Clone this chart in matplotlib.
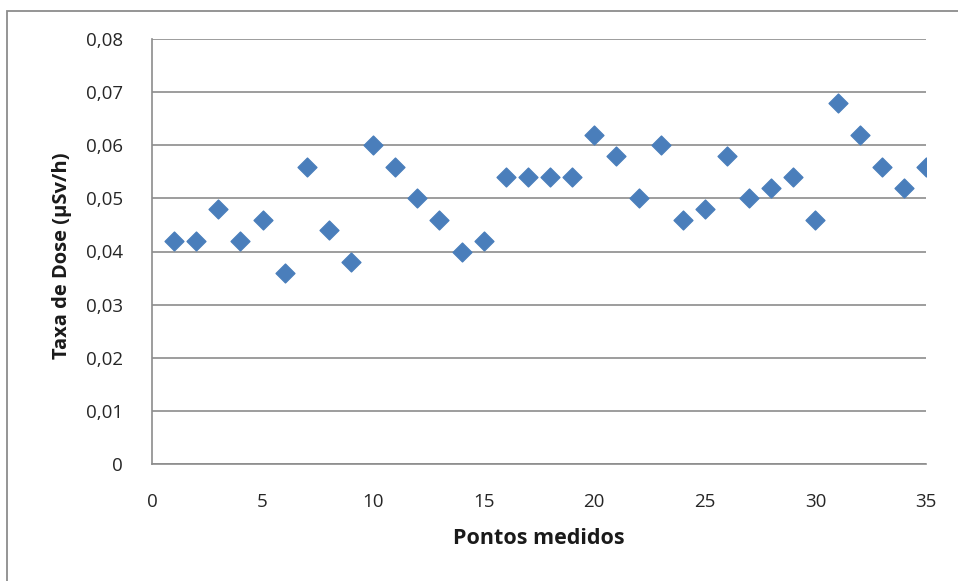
import matplotlib
matplotlib.use("Agg")
import matplotlib.pyplot as plt
from matplotlib.ticker import FuncFormatter

pontos = list(range(1, 36))
taxa = [0.042, 0.042, 0.048, 0.042, 0.046, 0.036, 0.056, 0.044, 0.038, 0.060,
        0.056, 0.050, 0.046, 0.040, 0.042, 0.054, 0.054, 0.054, 0.054, 0.062,
        0.058, 0.050, 0.060, 0.046, 0.048, 0.058, 0.050, 0.052, 0.054, 0.046,
        0.068, 0.062, 0.056, 0.052, 0.056]
x_ticks = [0, 5, 10, 15, 20, 25, 30, 35]
y_ticks = [0, 0.01, 0.02, 0.03, 0.04, 0.05, 0.06, 0.07, 0.08]
x_label = "Pontos medidos"
y_label = "Taxa de Dose (µSv/h)"

plt.rcParams['font.family'] = ['Open Sans', 'DejaVu Sans']

fig = plt.figure(figsize=(9.58, 5.81), dpi=100)
# outer chart frame
frame = plt.Rectangle((7/958, -0.1), 1.2, (581-11)/581 + 0.1, transform=fig.transFigure,
                      fill=False, edgecolor='#8c8c8c', linewidth=1.3)
fig.patches.append(frame)

ax = fig.add_axes([152/958, (581-464)/581, (926-152)/958, (464-39)/581])
ax.scatter(pontos, taxa, marker='D', s=92, color='#4a7ebb', edgecolors='#4a7ebb', zorder=3)

ax.set_xlim(0, 35)
ax.set_ylim(0, 0.08)
ax.set_xticks(x_ticks)
ax.set_yticks(y_ticks)
ax.yaxis.set_major_formatter(FuncFormatter(lambda v, p: "0" if v == 0 else f"{v:.2f}".replace(".", ",")))
ax.grid(axis='y', color='#8c8c8c', linewidth=1.2)
ax.set_axisbelow(True)
for s in ['top', 'right']:
    ax.spines[s].set_visible(False)
for s in ['left', 'bottom']:
    ax.spines[s].set_color('#8c8c8c')
    ax.spines[s].set_linewidth(1.2)
ax.tick_params(axis='both', length=0, labelsize=13.5, labelcolor='#262626')
ax.tick_params(axis='x', pad=21)
ax.tick_params(axis='y', pad=21)

ax.set_xlabel(x_label, fontsize=15.5, fontweight='bold', color='#1a1a1a')
ax.set_ylabel(y_label, fontsize=14.5, fontweight='bold', color='#1a1a1a')
ax.xaxis.label.set_va('center')
ax.xaxis.set_label_coords(0.5, (464 - 539) / 425)
ax.yaxis.label.set_va('center')
ax.yaxis.set_label_coords((62 - 152) / 774, (464 - 256) / 425)

fig.savefig("out.png", dpi=100)
